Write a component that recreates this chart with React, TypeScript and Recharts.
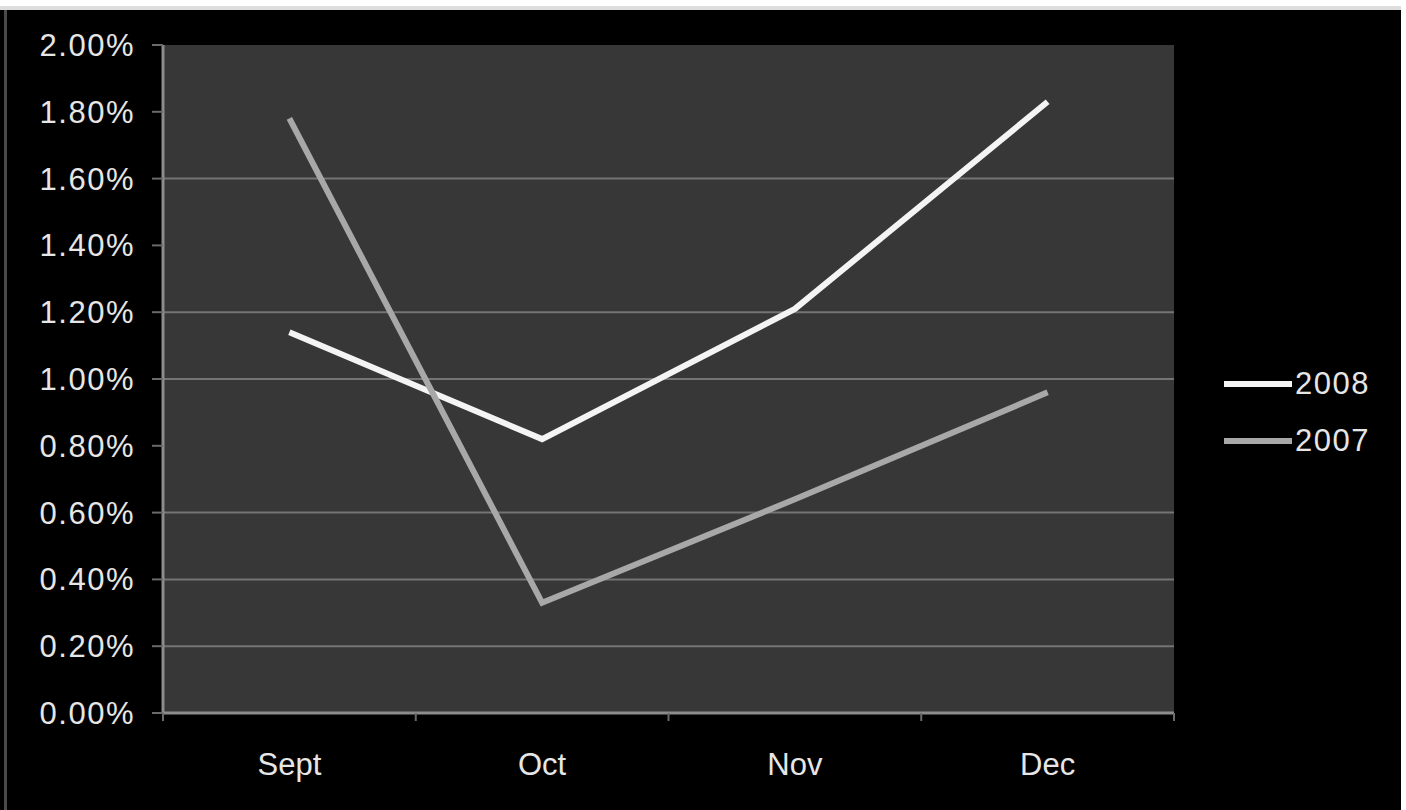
import { CartesianGrid, Legend, Line, LineChart, XAxis, YAxis } from 'recharts';

const MONTHS = ['Sept', 'Oct', 'Nov', 'Dec'];
const RATE_2008 = [1.14, 0.82, 1.21, 1.83];
const RATE_2007 = [1.78, 0.33, 0.64, 0.96];
const Y_TICKS = [0, 0.2, 0.4, 0.6, 0.8, 1.0, 1.2, 1.4, 1.6, 1.8, 2.0];
// only these gridlines show up on the exported chart
const GRID_VALUES = [0.2, 0.4, 0.6, 1.0, 1.2, 1.6];

const SERIES = [
  { key: 'y2008', name: '2008', color: '#f4f4f4' },
  { key: 'y2007', name: '2007', color: '#a8a8a8' },
];

const data = MONTHS.map((month, i) => ({
  month,
  y2008: RATE_2008[i],
  y2007: RATE_2007[i],
}));

const FONT = '"Liberation Sans", Arial, sans-serif';
const TEXT_COLOR = '#e6e6e6';
const LEGEND_WIDTH = 170;

function gridRows({ yAxis }: any) {
  const scale = yAxis?.scale;
  if (typeof scale === 'function') return GRID_VALUES.map((v) => scale(v));
  if (scale && typeof scale.map === 'function') return GRID_VALUES.map((v) => scale.map(v));
  return [];
}

function MonthTick(props: any) {
  const { x, y, payload, index, visibleTicksCount } = props;
  const half = payload?.offset ?? 0;
  const isLast = index === visibleTicksCount - 1;
  return (
    <g>
      {half > 0 && (
        <line x1={x - half} x2={x - half} y1={y} y2={y + 8} stroke="#6a6a6a" strokeWidth={2} />
      )}
      {half > 0 && isLast && (
        <line x1={x + half} x2={x + half} y1={y} y2={y + 8} stroke="#6a6a6a" strokeWidth={2} />
      )}
      <text x={x} y={y + 62} textAnchor="middle" fill={TEXT_COLOR} fontSize={31} fontFamily={FONT}>
        {payload.value}
      </text>
    </g>
  );
}

function SeriesLegend() {
  return (
    <div style={{ fontFamily: FONT }}>
      {SERIES.map((s) => (
        <div key={s.key} style={{ display: 'flex', alignItems: 'center', height: 57 }}>
          <div style={{ width: 68, height: 6, background: s.color }} />
          <span
            style={{ marginLeft: 3, fontSize: 31, color: TEXT_COLOR, letterSpacing: 1.5, lineHeight: '31px' }}
          >
            {s.name}
          </span>
        </div>
      ))}
    </div>
  );
}

export default function App() {
  return (
    <div style={{ position: 'absolute', left: 0, top: 0, width: 1406, height: 810, background: '#ffffff' }}>
      <div style={{ position: 'absolute', left: 0, top: 6, width: 1401, height: 4, background: '#dddddd' }} />
      <div style={{ position: 'absolute', left: 0, top: 10, width: 1401, height: 800, background: '#000000' }}>
        <div style={{ position: 'absolute', left: 4, top: 0, width: 3, height: 800, background: '#4a4a4a' }} />
        <div style={{ position: 'absolute', left: 7, top: 0 }}>
          {/* the legend box width gets reserved on the right, so the margin leaves it out */}
          <LineChart
            width={1394}
            height={800}
            data={data}
            margin={{ top: 35, right: 227 - LEGEND_WIDTH, bottom: 0, left: 0 }}
          >
            <CartesianGrid
              vertical={false}
              horizontalCoordinatesGenerator={gridRows}
              stroke="#747474"
              strokeWidth={2}
              fill="#373737"
            />
            <XAxis
              dataKey="month"
              scale="band"
              height={97}
              axisLine={{ stroke: '#8c8c8c', strokeWidth: 3 }}
              tickLine={false}
              tickSize={0}
              tickMargin={0}
              tick={<MonthTick />}
              interval={0}
            />
            <YAxis
              width={156}
              domain={[0, 2]}
              ticks={Y_TICKS}
              interval={0}
              tickFormatter={(v: number) => `${v.toFixed(2)}%`}
              axisLine={{ stroke: '#8c8c8c', strokeWidth: 3 }}
              tickLine={{ stroke: '#6a6a6a', strokeWidth: 2 }}
              tickSize={11}
              tickMargin={17}
              tick={{ fill: TEXT_COLOR, fontSize: 31, fontFamily: FONT, letterSpacing: 1.5 }}
            />
            <Legend
              layout="horizontal"
              verticalAlign="middle"
              align="right"
              content={<SeriesLegend />}
              wrapperStyle={{ left: 1217, top: 345, width: LEGEND_WIDTH, right: 'auto', bottom: 'auto' }}
            />
            {SERIES.map((s) => (
              <Line
                key={s.key}
                type="linear"
                dataKey={s.key}
                name={s.name}
                stroke={s.color}
                strokeWidth={6}
                dot={false}
                activeDot={false}
                isAnimationActive={false}
              />
            ))}
          </LineChart>
        </div>
      </div>
    </div>
  );
}
